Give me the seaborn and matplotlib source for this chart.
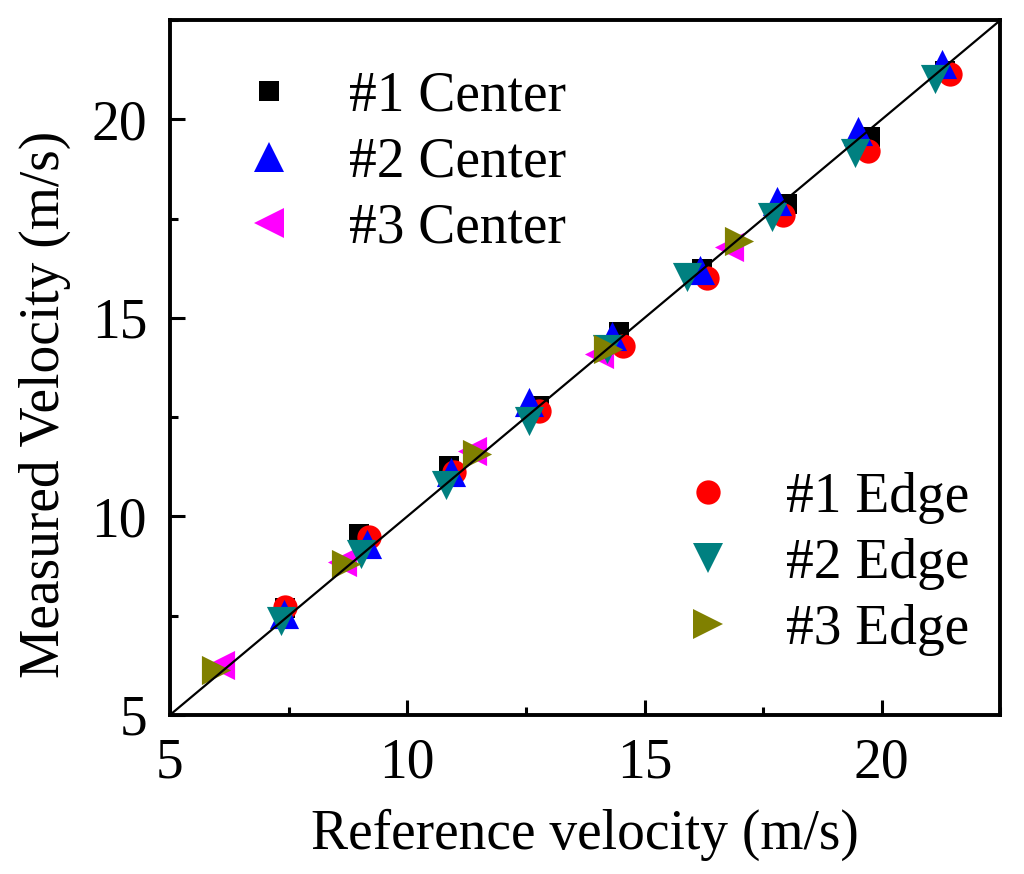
import numpy as np
import seaborn as sns
import matplotlib
matplotlib.use('Agg')
from matplotlib import pyplot as plt
from matplotlib.lines import Line2D

#--------------------------Data------------------------
c1_ref = [7.43, 8.99, 10.89, 12.78, 14.47, 16.22, 18.00, 19.75, 21.33]
c1_meas = [7.70, 9.56, 11.27, 12.78, 14.65, 16.23, 17.87, 19.56, 21.22]

e1_ref = [7.43, 9.20, 10.99, 12.78, 14.54, 16.31, 17.91, 19.70, 21.43]
e1_meas = [7.72, 9.48, 11.12, 12.66, 14.30, 16.00, 17.60, 19.20, 21.13]

c2_ref = [7.40, 9.16, 10.93, 12.57, 14.32, 16.16, 17.80, 19.49, 21.27]
c2_meas = [7.55, 9.30, 11.12, 12.88, 14.55, 16.20, 17.95, 19.71, 21.40]

e2_ref = [7.34, 9.03, 10.82, 12.57, 14.20, 15.89, 17.68, 19.43, 21.12]
e2_meas = [7.37, 9.06, 10.80, 12.40, 14.22, 16.02, 17.55, 19.15, 21.02]

c3_ref = [6.05, 8.63, 11.37, 14.05, 16.79]
c3_meas = [6.25, 8.85, 11.65, 14.09, 16.79]

e3_ref = [5.97, 8.71, 11.48, 14.22, 17.00]
e3_meas = [6.12, 8.80, 11.57, 14.22, 16.94]

ref_line = [5, 22.5]

#--------------------------Style------------------------------------------------
sns.set_style('ticks')
plt.rcParams['font.family'] = ['Liberation Serif', 'DejaVu Serif']
for key in ['text.color', 'axes.labelcolor', 'xtick.color', 'ytick.color']:
    plt.rcParams[key] = 'black'

series = [
    ('#1 Center', c1_ref, c1_meas, 's', 'black', 14.5),
    ('#1 Edge', e1_ref, e1_meas, 'o', 'red', 17.5),
    ('#2 Center', c2_ref, c2_meas, '^', 'blue', 21),
    ('#3 Center', c3_ref, c3_meas, '<', 'magenta', 21),
    ('#2 Edge', e2_ref, e2_meas, 'v', 'teal', 21),
    ('#3 Edge', e3_ref, e3_meas, '>', 'olive', 21),
]

fig, ax = plt.subplots(figsize=(10.24, 8.74), dpi=100)
fig.subplots_adjust(left=0.166, right=0.977, bottom=0.182, top=0.977)

handles = {}
for label, xs, ys, mk, col, ms in series:
    sns.scatterplot(x=xs, y=ys, marker=mk, color=col, s=ms ** 2,
                    linewidth=0, ax=ax, zorder=3)
    handles[label] = Line2D([], [], linestyle='none', marker=mk, color=col,
                            markersize=ms, markeredgewidth=0)

#y = x reference line on top of markers
sns.lineplot(x=ref_line, y=ref_line, color='black', linewidth=1.6, ax=ax, zorder=4)

ax.set_xlim(5, 22.5)
ax.set_ylim(5, 22.5)
ax.set_xticks([5, 10, 15, 20])
ax.set_yticks([5, 10, 15, 20])
ax.set_xticks([7.5, 12.5, 17.5, 22.5], minor=True)
ax.set_yticks([7.5, 12.5, 17.5, 22.5], minor=True)
ax.tick_params(which='major', direction='in', length=11, width=2.2,
               labelsize=40, top=False, right=False)
ax.tick_params(which='minor', direction='in', length=5.5, width=2.2,
               top=False, right=False)
ax.tick_params(axis='x', which='major', pad=16)
ax.tick_params(axis='y', which='major', pad=16.5)
for sp in ax.spines.values():
    sp.set_linewidth(2.8)
    sp.set_color('black')

ax.set_xlabel('Reference velocity (m/s)', fontsize=40)
ax.set_ylabel('Measured Velocity (m/s)', fontsize=40)
ax.xaxis.set_label_coords(0.5, -0.135)
ax.yaxis.set_label_coords(-0.119, 0.447)

leg_kw = dict(frameon=False, fontsize=40, borderpad=0, borderaxespad=0,
              handlelength=1.0, labelspacing=0.25, loc='upper left')
leg1 = ax.legend(handles=[handles[k] for k in ['#1 Center', '#2 Center', '#3 Center']],
                 labels=['#1 Center', '#2 Center', '#3 Center'],
                 handletextpad=0.94, bbox_to_anchor=(0.086, 0.927), **leg_kw)
ax.add_artist(leg1)
ax.legend(handles=[handles[k] for k in ['#1 Edge', '#2 Edge', '#3 Edge']],
          labels=['#1 Edge', '#2 Edge', '#3 Edge'],
          handletextpad=0.9, bbox_to_anchor=(0.615, 0.35), **leg_kw)

fig.savefig('out.png', dpi=100)
